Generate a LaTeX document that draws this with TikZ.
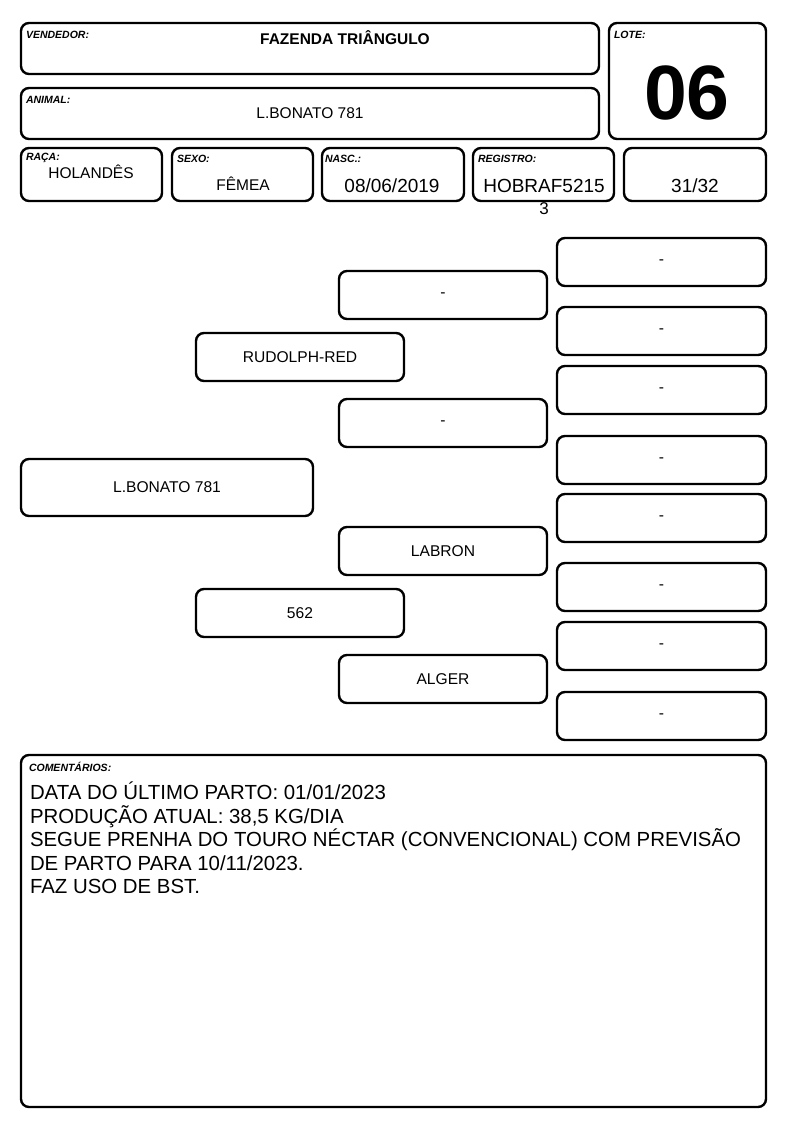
\documentclass[tikz,border=0pt]{standalone}
\usepackage{fontspec}
\setmainfont{Liberation Sans}
\begin{document}
\begin{tikzpicture}[x=1pt,y=-1pt,
  box/.style={draw, line width=2.4pt, rounded corners=8pt, inner sep=0pt, font=\fontsize{15.6}{18}\selectfont},
  lbl/.style={anchor=north west, inner sep=0pt, font=\fontsize{10.5}{12}\selectfont\bfseries\itshape},
  txt/.style={inner sep=0pt, font=\fontsize{15.5}{18}\selectfont},
  big/.style={inner sep=0pt, font=\fontsize{19}{23}\selectfont},
  ped/.style={box, minimum width=208pt, minimum height=48pt},
  ped4/.style={box, minimum width=209pt, minimum height=48pt}]
\useasboundingbox (0,0) rectangle (794,1123);
% header
\node[box, minimum width=578pt, minimum height=51pt] (vend) at (310,48.5) {};
\node[box, minimum width=578pt, minimum height=51pt] (anim) at (310,113.5) {};
\node[box, minimum width=157pt, minimum height=116pt] (lote) at (687.5,81) {};
\node[box, minimum width=141pt, minimum height=53pt] (raca) at (91.5,174.5) {};
\node[box, minimum width=141pt, minimum height=53pt] (sexo) at (242.5,174.5) {};
\node[box, minimum width=142pt, minimum height=53pt] (nasc) at (393,174.5) {};
\node[box, minimum width=141pt, minimum height=53pt] (reg) at (543.5,174.5) {};
\node[box, minimum width=142pt, minimum height=53pt] (frac) at (695,174.5) {};
\node[lbl] (lvend) at ([shift={(6,9)}]vend.north west) {VENDEDOR:};
\node[lbl] (lanim) at ([shift={(6,9)}]anim.north west) {ANIMAL:};
\node[lbl] (llote) at ([shift={(6,9)}]lote.north west) {LOTE:};
\node[lbl] (lraca) at ([shift={(6,6)}]raca.north west) {RAÇA:};
\node[lbl] (lsexo) at ([shift={(6,8)}]sexo.north west) {SEXO:};
\node[lbl] (lnasc) at ([shift={(4,8)}]nasc.north west) {NASC.:};
\node[lbl] (lreg) at ([shift={(6,8)}]reg.north west) {REGISTRO:};
\node[txt, font=\fontsize{15.5}{18}\selectfont\bfseries] (tvend) at (345,38) {FAZENDA TRIÂNGULO};
\node[txt] (tanim) at (310,113) {L.BONATO 781};
\node[inner sep=0pt, font=\fontsize{77}{80}\selectfont\bfseries] (tlote) at (687,93) {06};
\node[txt] (traca) at (91,172) {HOLANDÊS};
\node[txt] (tsexo) at (243,184) {FÊMEA};
\node[big] (tnasc) at (392,186) {08/06/2019};
\node[big] (treg) at (544,186) {HOBRAF5215};
\node[txt, font=\fontsize{17}{20}\selectfont] (treg2) at (544,209) {3};
\node[big] (tfrac) at (695,186) {31/32};
% pedigree
\node[box, minimum width=292pt, minimum height=57pt] (p1) at (167,487.5) {L.BONATO 781};
\node[ped] (p2a) at (300,357) {RUDOLPH-RED};
\node[ped] (p2b) at (300,613) {562};
\node[ped] (p3a) at (443,295) {-};
\node[ped] (p3b) at (443,423) {-};
\node[ped] (p3c) at (443,551) {LABRON};
\node[ped] (p3d) at (443,679) {ALGER};
\node[ped4] (p4a) at (661.5,262) {-};
\node[ped4] (p4b) at (661.5,331) {-};
\node[ped4] (p4c) at (661.5,390) {-};
\node[ped4] (p4d) at (661.5,460) {-};
\node[ped4] (p4e) at (661.5,518) {-};
\node[ped4] (p4f) at (661.5,587) {-};
\node[ped4] (p4g) at (661.5,646) {-};
\node[ped4] (p4h) at (661.5,716) {-};
% comments
\node[box, minimum width=745pt, minimum height=352pt] (com) at (393.5,931) {};
\node[lbl] (lcom) at ([shift={(9,8)}]com.north west) {COMENTÁRIOS:};
\node[anchor=north west, inner sep=0pt, align=left, font=\fontsize{20.4}{23.5}\selectfont] (tcom) at ([shift={(10,28)}]com.north west)
{DATA DO ÚLTIMO PARTO: 01/01/2023\\
PRODUÇÃO ATUAL: 38,5 KG/DIA\\
SEGUE PRENHA DO TOURO NÉCTAR (CONVENCIONAL) COM PREVISÃO\\
DE PARTO PARA 10/11/2023.\\
FAZ USO DE BST.};
\end{tikzpicture}
\end{document}
